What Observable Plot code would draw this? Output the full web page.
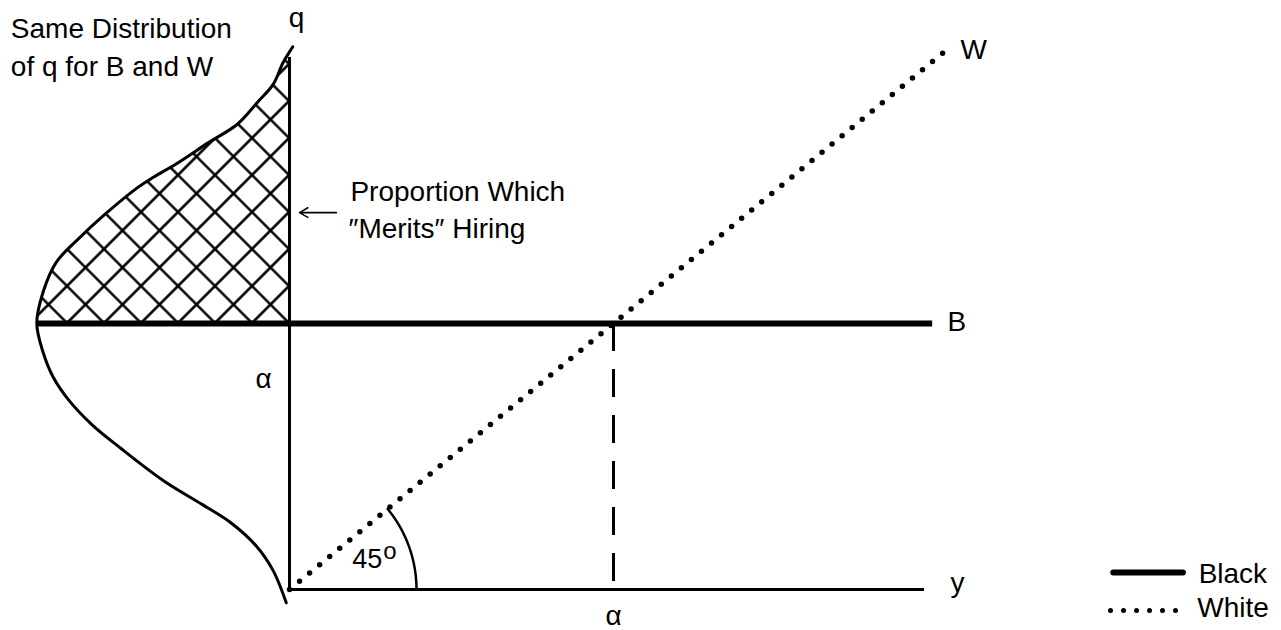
<!DOCTYPE html>
<html>
<head>
<meta charset="utf-8">
<script src="https://cdn.jsdelivr.net/npm/d3@7"></script>
<script src="https://cdn.jsdelivr.net/npm/@observablehq/plot@0.6"></script>
<style>
  html, body { margin: 0; padding: 0; background: #fff; }
  svg { display: block; }
</style>
</head>
<body>
<div id="chart"></div>
<script>
// Quality q runs up the vertical axis, y along the horizontal one.
// Units are chosen so that the hiring threshold alpha = 1 on both axes.

// Distribution of q (same for B and W), drawn leftward from the q axis.
const curveQ       = [2.04, 1.98, 1.90, 1.83, 1.75, 1.68, 1.60, 1.55, 1.51, 1.41, 1.32, 1.23, 1.12, 1.00, 0.89, 0.80, 0.71, 0.62, 0.53, 0.41, 0.32, 0.25, 0.16, 0.07, -0.05];
const curveDensity = [-0.01, 0.02, 0.05, 0.10, 0.16, 0.25, 0.35, 0.42, 0.47, 0.57, 0.65, 0.72, 0.76, 0.78, 0.76, 0.73, 0.68, 0.61, 0.52, 0.39, 0.27, 0.18, 0.10, 0.05, 0.01];

// Threshold and line extents
const alpha = 1;
const qAxisTop = 2.0;
const yAxisEnd = 1.96;
const lineBExtent = [-0.78, 1.985];   // Black: flat at q = alpha
const lineWExtent = [0, 2.02];        // White: the 45-degree line q = y
const angleLabel = "45";

// Text labels (data units)
const labelText = ["Same Distribution", "of q for B and W", "q", "W", "B", "y", "\u03b1", "\u03b1",
                   "Proportion Which", "\u2033Merits\u2033 Hiring", "Black", "White"];
const labelX    = [-0.86, -0.86, 0.022, 2.071, 2.031, 2.040, -0.080, 1.0, 0.188, 0.182, 2.806, 2.802];
const labelY    = [2.075, 1.932, 2.113, 1.996, 0.970, -0.008, 0.756, -0.135, 1.462, 1.320, 0.026, -0.105];
const labelAnchor = ["start", "start", "middle", "start", "start", "start", "middle", "middle", "start", "start", "start", "start"];

// Legend samples
const legendX = [2.534, 2.759];
const legendBlackY = 0.064;
const legendWhiteY = -0.079;

const curve = curveQ.map((q, i) => ({q, density: curveDensity[i]}));
const upper = curve.filter(d => d.q >= alpha);
const labels = labelText.map((text, i) => ({text, x: labelX[i], y: labelY[i], anchor: labelAnchor[i]}));

// Pixel frame
const W = 1281, H = 630;
const xRange = [289, 613], yRange = [589, 323];
const pxPerX = xRange[1] - xRange[0], pxPerY = yRange[0] - yRange[1];

// Angle marker: circular arc (on screen) from the y axis up to the W line
const arcRadiusPx = 127;
const arcSweep = Math.atan2(pxPerY, pxPerX);   // on-screen angle of q = y
const arc = d3.range(0, 1.0001, 0.02).map(f => {
  const t = f * arcSweep;
  return {x: arcRadiusPx / pxPerX * Math.cos(t), y: arcRadiusPx / pxPerY * Math.sin(t)};
});

const font = "'Liberation Sans', Arial, Helvetica, sans-serif";
const fontSize = 28;

const svg = Plot.plot({
  width: W,
  height: H,
  margin: 0,
  x: {domain: [0, 1], range: xRange, axis: null},
  y: {domain: [0, 1], range: yRange, axis: null},
  style: {fontFamily: font, background: "#fff", color: "#000"},
  marks: [
    // hatched share above the threshold
    Plot.areaX(upper, {y: "q", x1: d => -Math.max(0, d.density), x2: 0, fill: "url(#crosshatch)", curve: "catmull-rom"}),
    // distribution outline
    Plot.line(curve, {x: d => -d.density, y: "q", curve: "catmull-rom", stroke: "#000", strokeWidth: 3}),
    // axes
    Plot.ruleX([0], {y1: 0, y2: qAxisTop, stroke: "#000", strokeWidth: 3}),
    Plot.ruleY([0], {x1: 0, x2: yAxisEnd, stroke: "#000", strokeWidth: 3}),
    // Black line
    Plot.ruleY([alpha], {x1: lineBExtent[0], x2: lineBExtent[1], stroke: "#000", strokeWidth: 6}),
    // White line (dotted)
    Plot.line(lineWExtent.map(v => ({x: v, y: v})), {x: "x", y: "y", stroke: "#000", strokeWidth: 5.5, strokeDasharray: "0 13", strokeLinecap: "round"}),
    // dashed drop from the crossing to y = alpha
    Plot.ruleX([alpha], {y1: alpha, y2: 0, stroke: "#000", strokeWidth: 3, strokeDasharray: "28 18"}),
    // 45-degree angle arc
    Plot.line(arc, {x: "x", y: "y", stroke: "#000", strokeWidth: 2.5}),
    Plot.text([angleLabel], {x: 0.194, y: 0.079, text: d => d, textAnchor: "start", lineAnchor: "bottom", fontSize: 27, fill: "#000"}),
    Plot.text(["o"], {x: 0.289, y: 0.114, text: d => d, textAnchor: "start", lineAnchor: "bottom", fontSize: 24, fill: "#000"}),
    // pointer to the hatched share
    Plot.arrow([0], {x1: 0.145, y1: 1.417, x2: 0.031, y2: 1.417, stroke: "#000", strokeWidth: 1.6, headLength: 9}),
    // labels
    Plot.text(labels.filter(d => d.anchor === "start"), {x: "x", y: "y", text: "text", textAnchor: "start", lineAnchor: "bottom", fontSize, fill: "#000"}),
    Plot.text(labels.filter(d => d.anchor === "middle"), {x: "x", y: "y", text: "text", textAnchor: "middle", lineAnchor: "bottom", fontSize, fill: "#000"}),
    // legend
    Plot.ruleY([legendBlackY], {x1: legendX[0] + 0.01, x2: legendX[1], stroke: "#000", strokeWidth: 6, strokeLinecap: "round"}),
    Plot.line(legendX.map(x => ({x, y: legendWhiteY})), {x: "x", y: "y", stroke: "#000", strokeWidth: 5, strokeDasharray: "0 13", strokeLinecap: "round"})
  ]
});

// Crosshatch pattern, aligned so crossings sit on the q axis at q = alpha
const xs = svg.scale("x"), ys = svg.scale("y");
const spacing = 37;                    // vertical distance between crossings on the axis
const tile = spacing / Math.SQRT2;
const pattern = d3.select(svg).insert("defs", ":first-child")
  .append("pattern")
  .attr("id", "crosshatch")
  .attr("patternUnits", "userSpaceOnUse")
  .attr("width", tile)
  .attr("height", tile)
  .attr("patternTransform", `translate(${xs.apply(0)},${ys.apply(alpha) - spacing / 2}) rotate(45)`);
pattern.append("rect").attr("width", tile).attr("height", tile).attr("fill", "#fff");
pattern.append("path")
  .attr("d", `M${tile / 2},-1V${tile + 1}M-1,${tile / 2}H${tile + 1}`)
  .attr("stroke", "#000")
  .attr("stroke-width", 2.6)
  .attr("fill", "none");

document.getElementById("chart").appendChild(svg);
</script>
</body>
</html>
